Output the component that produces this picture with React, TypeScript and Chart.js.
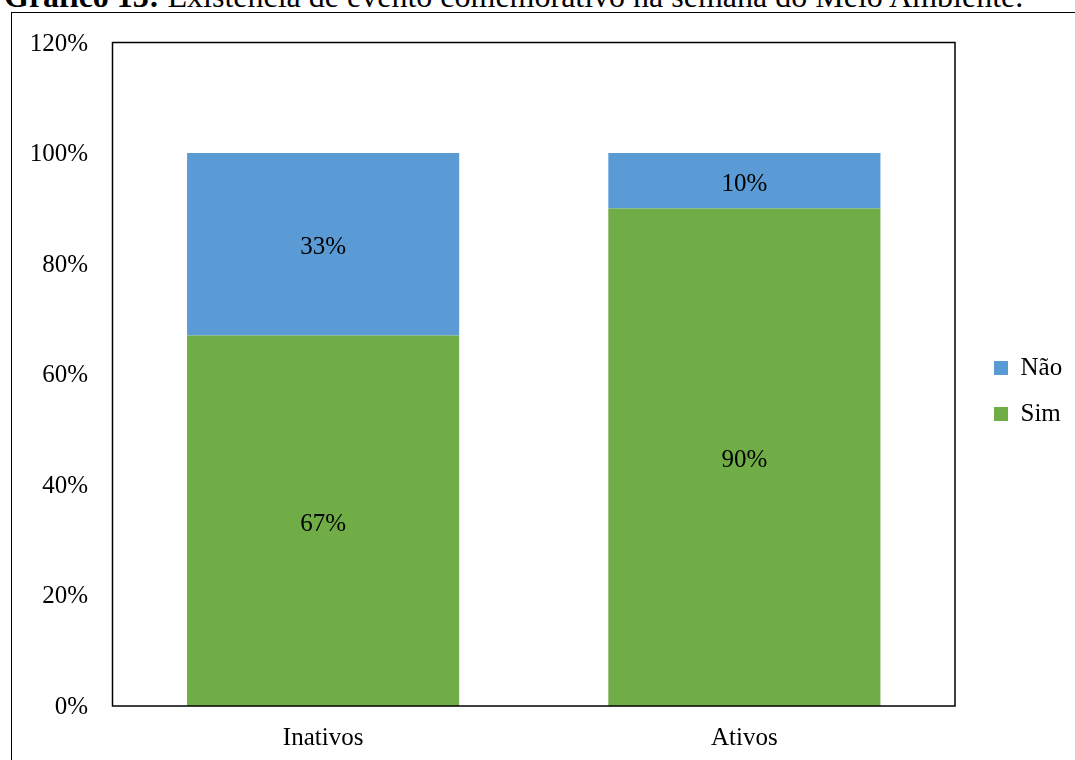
import React, { useEffect, useRef } from "react";
import { Chart, registerables } from "chart.js";

Chart.register(...registerables);

const titleBold = "Gráfico 13:";
const titleRest = " Existência de evento comemorativo na semana do Meio Ambiente.";
const categories = ["Inativos", "Ativos"];
const seriesNames = ["Sim", "Não"];
const simValues = [67, 90];
const naoValues = [33, 10];
const seriesColors = ["#70AD47", "#5B9BD5"];
const yMin = 0;
const yMax = 120;
const yStep = 20;

const FONT = "'Times New Roman', 'Liberation Serif', Times, serif";

const frameAndLabels = {
  id: "frameAndLabels",
  afterDatasetsDraw(chart: any) {
    const { ctx, chartArea } = chart;
    ctx.save();
    ctx.strokeStyle = "#000";
    ctx.lineWidth = 1.5;
    ctx.strokeRect(chartArea.left, chartArea.top, chartArea.right - chartArea.left, chartArea.bottom - chartArea.top);
    ctx.fillStyle = "#000";
    ctx.font = `25px ${FONT}`;
    ctx.textAlign = "center";
    ctx.textBaseline = "middle";
    chart.data.datasets.forEach((ds: any, di: number) => {
      const meta = chart.getDatasetMeta(di);
      meta.data.forEach((el: any, i: number) => {
        const p = el.getProps(["x", "y", "base"], true);
        ctx.fillText(`${ds.data[i]}%`, p.x, (p.y + p.base) / 2 + 3.5);
      });
    });
    ctx.restore();
  },
};

export default function App() {
  const ref = useRef<HTMLCanvasElement>(null);
  useEffect(() => {
    if (!ref.current) return;
    const chart = new Chart(ref.current, {
      type: "bar",
      data: {
        labels: categories,
        datasets: [
          { label: seriesNames[0], data: simValues, backgroundColor: seriesColors[0], borderWidth: 0 },
          { label: seriesNames[1], data: naoValues, backgroundColor: seriesColors[1], borderWidth: 0 },
        ],
      },
      options: {
        responsive: false,
        animation: false,
        devicePixelRatio: 1,
        datasets: { bar: { barPercentage: 0.646, categoryPercentage: 1 } },
        layout: { padding: { top: 42.5, left: 0, right: 12, bottom: 0 } },
        plugins: {
          title: { display: false },
          tooltip: { enabled: false },
          legend: {
            position: "right",
            fullSize: false,
            reverse: true,
            maxWidth: 90,
            title: {
              display: true,
              text: " ",
              color: "rgba(0,0,0,0)",
              font: { family: FONT, size: 10 },
              padding: { top: 21.5, bottom: 0 },
            },
            labels: {
              boxWidth: 14,
              boxHeight: 14,
              padding: 21,
              color: "#000",
              font: { family: FONT, size: 25 },
            },
          },
        },
        scales: {
          x: {
            stacked: true,
            grid: { display: false, drawTicks: false },
            border: { display: false },
            ticks: { color: "#000", font: { family: FONT, size: 25 }, padding: 17.5 },
            afterFit: (s: any) => { s.height = 54; },
          },
          y: {
            stacked: true,
            min: yMin,
            max: yMax,
            grid: { display: false, drawTicks: false },
            border: { display: false },
            ticks: {
              stepSize: yStep,
              color: "#000",
              font: { family: FONT, size: 25 },
              padding: 24.5,
              labelOffset: 1.5,
              callback: (v: any) => `${v}%`,
            },
            afterFit: (s: any) => { s.width = 112.5; },
          },
          y2: {
            position: "right",
            display: true,
            grid: { display: false, drawTicks: false },
            border: { display: false },
            ticks: { display: false },
            afterFit: (s: any) => { s.width = 18; },
          },
        },
      },
      plugins: [frameAndLabels],
    });
    return () => chart.destroy();
  }, []);

  return (
    <div style={{ position: "absolute", left: 0, top: 0, width: 1075, height: 760, overflow: "hidden", background: "#fff" }}>
      <div
        style={{
          position: "absolute",
          left: 4,
          top: -20.3,
          fontFamily: FONT,
          fontSize: 32,
          lineHeight: "32px",
          whiteSpace: "nowrap",
          color: "#000",
        }}
      >
        <b>{titleBold}</b>
        {titleRest}
      </div>
      <div
        style={{
          position: "absolute",
          left: 11,
          top: 12,
          width: 1200,
          height: 900,
          border: "1.5px solid #000",
          boxSizing: "border-box",
        }}
      />
      <canvas ref={ref} width={1075} height={760} style={{ position: "absolute", left: 0, top: 0, width: 1075, height: 760 }} />
    </div>
  );
}
